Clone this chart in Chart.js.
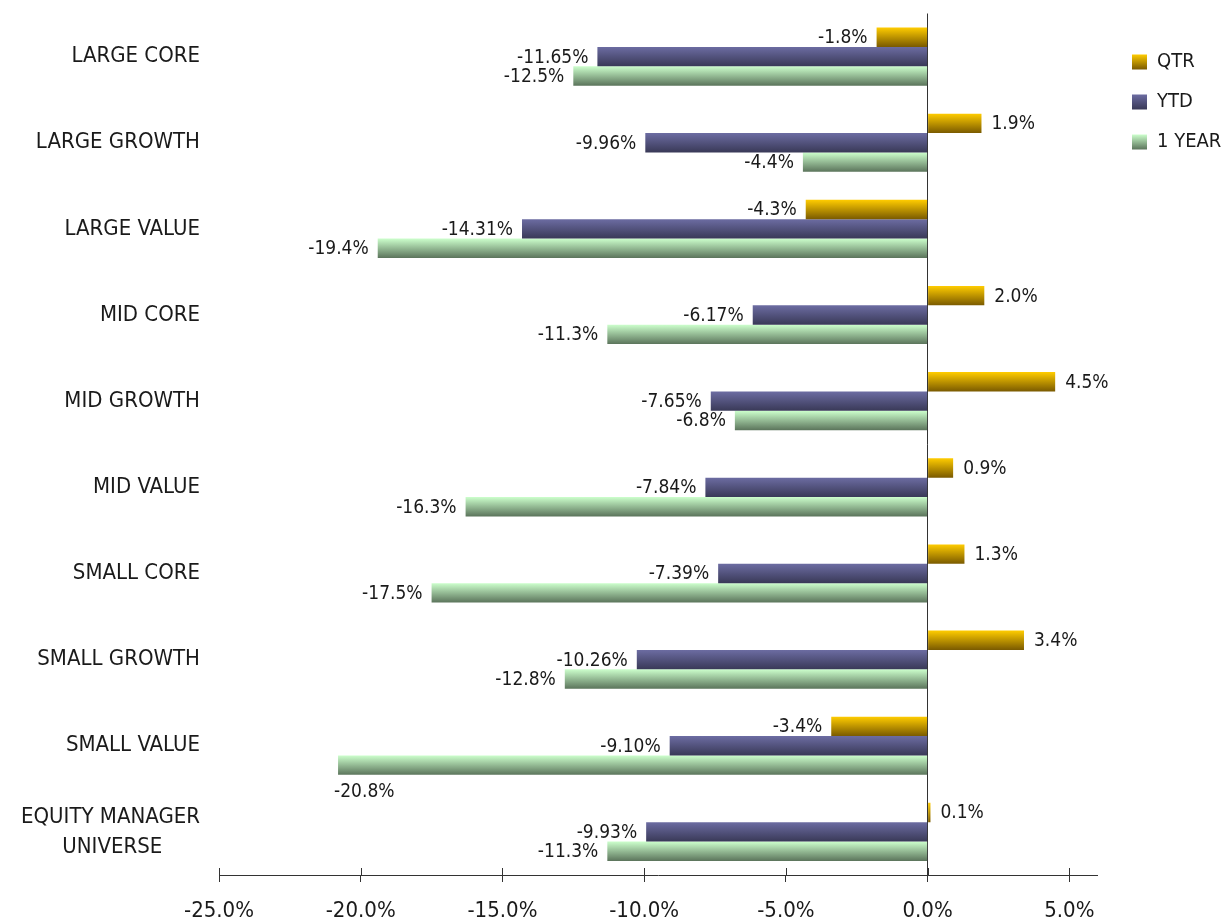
<!DOCTYPE html>
<html><head><meta charset="utf-8">
<script src="https://cdn.jsdelivr.net/npm/chart.js@4/dist/chart.umd.min.js"></script>
<style>html,body{margin:0;padding:0;background:#fff}#wrap{width:1224px;height:921px;position:relative}</style>
</head><body><div id="wrap"><canvas id="c" width="1224" height="921"></canvas></div>
<script>
// ---- data ----
const categories = ['LARGE CORE','LARGE GROWTH','LARGE VALUE','MID CORE','MID GROWTH','MID VALUE','SMALL CORE','SMALL GROWTH','SMALL VALUE',['EQUITY MANAGER','UNIVERSE']];
const seriesNames = ['QTR','YTD','1 YEAR'];
const qtr = [-1.8, 1.9, -4.3, 2.0, 4.5, 0.9, 1.3, 3.4, -3.4, 0.1];
const ytd = [-11.65, -9.96, -14.31, -6.17, -7.65, -7.84, -7.39, -10.26, -9.10, -9.93];
const oneYear = [-12.5, -4.4, -19.4, -11.3, -6.8, -16.3, -17.5, -12.8, -20.8, -11.3];
const labelDecimals = [1, 2, 1];
const oneYearLabelBelow = [false,false,false,false,false,false,false,false,true,false];
const xTickValues = [-25, -20, -15, -10, -5, 0, 5];

// ---- styles ----
const FONT = '"DejaVu Sans Condensed", "DejaVu Sans", sans-serif';
const gradStops = [
  ['#FFCC00', '#7A5A00'],
  ['#6C6CA2', '#393957'],
  ['#CCFFCC', '#5B745B']
];
const TEXT = '#1a1a1a';
const AXIS = '#333333';

function makeGrad(ctx, top, bottom, stops) {
  const g = ctx.createLinearGradient(0, top, 0, bottom);
  g.addColorStop(0, stops[0]);
  g.addColorStop(1, stops[1]);
  return g;
}

// centre multi-line category labels by padding shorter lines
const measureCtx = document.createElement('canvas').getContext('2d');
measureCtx.font = '22px ' + FONT;
function centredLines(lbl) {
  if (!Array.isArray(lbl)) return lbl;
  const widths = lbl.map(s => measureCtx.measureText(s).width);
  const maxW = Math.max(...widths);
  const sp = measureCtx.measureText(' ').width;
  return lbl.map((s, i) => s + ' '.repeat(Math.round((maxW - widths[i]) / 2 / sp)));
}

const gradientPlugin = {
  id: 'gradients',
  beforeDatasetsDraw(chart) {
    const ctx = chart.ctx;
    chart.data.datasets.forEach((ds, di) => {
      chart.getDatasetMeta(di).data.forEach(el => {
        const g = makeGrad(ctx, el.y - el.height / 2, el.y + el.height / 2, gradStops[di]);
        el.options = Object.assign({}, el.options, { backgroundColor: g });
      });
    });
  }
};

const labelPlugin = {
  id: 'valueLabels',
  afterDatasetsDraw(chart) {
    const c = chart.ctx;
    c.save();
    c.font = '19px ' + FONT;
    c.fillStyle = TEXT;
    c.textBaseline = 'middle';
    chart.data.datasets.forEach((ds, di) => {
      chart.getDatasetMeta(di).data.forEach((el, i) => {
        const v = ds.data[i];
        const txt = v.toFixed(labelDecimals[di]) + '%';
        if (ds.labelBelow && ds.labelBelow[i]) {
          c.textAlign = 'left';
          c.fillText(txt, el.x - 4, el.y + el.height / 2 + 17);
        } else if (v < 0) {
          c.textAlign = 'right';
          c.fillText(txt, el.x - 9, el.y + 1);
        } else {
          c.textAlign = 'left';
          c.fillText(txt, el.x + 10, el.y + 1);
        }
      });
    });
    c.restore();
  }
};

const tickCrossPlugin = {
  id: 'tickCross',
  afterDraw(chart) {
    const c = chart.ctx, xs = chart.scales.x, b = chart.chartArea.bottom;
    c.save();
    c.strokeStyle = AXIS;
    c.lineWidth = 1;
    xs.ticks.forEach(t => {
      const px = Math.round(xs.getPixelForValue(t.value)) + 0.5;
      c.beginPath();
      c.moveTo(px, b - 7);
      c.lineTo(px, b);
      c.stroke();
    });
    c.restore();
  }
};

const legendPlacePlugin = {
  id: 'legendPlace',
  afterLayout(chart) {
    const L = chart.legend;
    const w = L.right - L.left, h = L.bottom - L.top;
    L.left = 1112; L.right = L.left + w;
    L.top = 32; L.bottom = L.top + h;
  },
  afterUpdate(chart) {
    const L = chart.legend;
    if (!L || !L.legendItems) return;
    L.legendItems.forEach((it, i) => {
      const hb = L.legendHitBoxes[i];
      const top = hb ? hb.top + (hb.height - 15) / 2 : 0;
      it.fillStyle = makeGrad(chart.ctx, top, top + 15, gradStops[i]);
    });
  }
};

const datasets = [qtr, ytd, oneYear].map((d, i) => ({
  label: seriesNames[i],
  data: d,
  backgroundColor: gradStops[i][0],
  borderWidth: 0,
  labelBelow: i === 2 ? oneYearLabelBelow : null,
  categoryPercentage: 0.675,
  barPercentage: 1.0
}));

new Chart(document.getElementById('c'), {
  type: 'bar',
  data: { labels: categories.map(centredLines), datasets },
  plugins: [gradientPlugin, labelPlugin, tickCrossPlugin, legendPlacePlugin],
  options: {
    indexAxis: 'y',
    responsive: false,
    animation: false,
    layout: { padding: { top: 13.5, right: 7, bottom: 0, left: 0 } },
    plugins: {
      tooltip: { enabled: false },
      legend: {
        position: 'right',
        align: 'start',
        labels: {
          boxWidth: 15, boxHeight: 15, padding: 20,
          color: TEXT,
          font: { family: FONT, size: 20 }
        }
      }
    },
    scales: {
      x: {
        type: 'linear',
        min: -25, max: 6,
        afterBuildTicks: s => { s.ticks = xTickValues.map(v => ({ value: v })); },
        afterFit: s => { s.height = 46; s.paddingLeft = 0; s.paddingRight = 0; },
        ticks: {
          callback: v => v.toFixed(1) + '%',
          color: TEXT,
          font: { family: FONT, size: 22 },
          padding: 16,
          maxRotation: 0
        },
        grid: {
          color: c => (c.tick && c.tick.value === 0) ? AXIS : 'rgba(0,0,0,0)',
          tickColor: AXIS,
          tickLength: 7,
          lineWidth: 1
        },
        border: { display: true, color: AXIS, width: 1 }
      },
      y: {
        type: 'category',
        offset: true,
        afterFit: s => { s.width = 219; s.paddingTop = 0; s.paddingBottom = 0; },
        grid: { display: false },
        border: { display: false },
        ticks: {
          color: TEXT,
          font: { family: FONT, size: 22, lineHeight: 1.36 },
          padding: 11,
          autoSkip: false
        }
      }
    }
  }
});
</script>
</body></html>
